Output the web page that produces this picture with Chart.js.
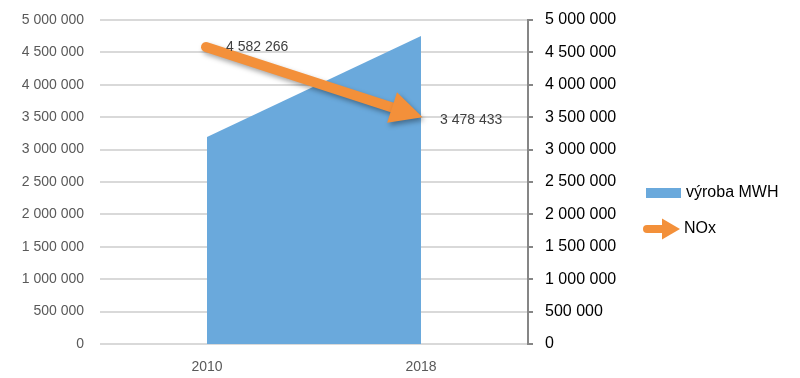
<!DOCTYPE html>
<html><head><meta charset="utf-8">
<script src="https://cdn.jsdelivr.net/npm/chart.js@4/dist/chart.umd.min.js"></script>
<style>html,body{margin:0;padding:0;background:#fff;}canvas{display:block;}</style>
</head><body>
<canvas id="c" width="800" height="378"></canvas>
<script>
const categories = ['2010', '2018'];
const vyrobaMWH = [3194000, 4753000];
const nox = [4582266, 3478433];
const seriesNames = ['výroba MWH', 'NOx'];
const axisMin = 0, axisMax = 5000000, axisStep = 500000;

const BLUE = '#6aa9dc';
const ORANGE = '#f3903a';
const FONT = "'Liberation Sans', Arial, sans-serif";
const fmt = v => String(Math.round(v)).replace(/\B(?=(\d{3})+(?!\d))/g, ' ');

function drawArrow(ctx, x0, y0, x1, y1, w, headLen, headHalf, roundStart) {
  const dx = x1 - x0, dy = y1 - y0, len = Math.hypot(dx, dy);
  const ux = dx / len, uy = dy / len;
  const bx = x1 - ux * headLen, by = y1 - uy * headLen;
  ctx.beginPath();
  ctx.lineWidth = w;
  ctx.lineCap = roundStart ? 'round' : 'butt';
  ctx.strokeStyle = ORANGE;
  ctx.moveTo(x0, y0);
  ctx.lineTo(bx + ux * 1, by + uy * 1);
  ctx.stroke();
  ctx.beginPath();
  ctx.fillStyle = ORANGE;
  ctx.moveTo(x1, y1);
  ctx.lineTo(bx - uy * headHalf, by + ux * headHalf);
  ctx.lineTo(bx + uy * headHalf, by - ux * headHalf);
  ctx.closePath();
  ctx.fill();
}

const arrowPlugin = {
  id: 'arrowPlugin',
  afterDatasetsDraw(chart) {
    const ctx = chart.ctx;
    const meta = chart.getDatasetMeta(1);
    const p0 = meta.data[0], p1 = meta.data[1];
    ctx.save();
    ctx.shadowColor = 'rgba(0,0,0,0.35)';
    ctx.shadowBlur = 5;
    ctx.shadowOffsetX = 2;
    ctx.shadowOffsetY = 3;
    drawArrow(ctx, p0.x - 1, p0.y, p1.x + 1.5, p1.y - 1.3, 10, 32, 16, true);
    ctx.restore();
    ctx.save();
    ctx.font = '14px ' + FONT;
    ctx.fillStyle = '#404040';
    ctx.textAlign = 'left';
    ctx.textBaseline = 'middle';
    ctx.fillText(fmt(nox[0]), p0.x + 19, p0.y + 0.5);
    ctx.fillText(fmt(nox[1]), p1.x + 19, p1.y + 1.5);
    ctx.restore();
    ctx.save();
    ctx.fillStyle = BLUE;
    ctx.fillRect(646, 188, 35, 10);
    ctx.font = '16px ' + FONT;
    ctx.fillStyle = '#000';
    ctx.textAlign = 'left';
    ctx.textBaseline = 'middle';
    ctx.fillText(chart.data.datasets[0].label, 686, 193);
    drawArrow(ctx, 647, 229, 680, 229, 8, 18, 10.5, true);
    ctx.fillStyle = '#000';
    ctx.fillText(chart.data.datasets[1].label, 684, 229);
    ctx.restore();
  }
};

function noPadV(s, w) { s.width = w; s.paddingTop = 0; s.paddingBottom = 0; }

new Chart(document.getElementById('c'), {
  type: 'line',
  data: {
    labels: categories,
    datasets: [
      { label: seriesNames[0], data: vyrobaMWH, yAxisID: 'y', fill: 'origin',
        backgroundColor: BLUE, borderWidth: 0, pointRadius: 0, tension: 0 },
      { label: seriesNames[1], data: nox, yAxisID: 'y', fill: false,
        showLine: false, pointRadius: 0, borderColor: ORANGE }
    ]
  },
  options: {
    responsive: false,
    animation: false,
    layout: { padding: { top: 20, left: 0, right: 0, bottom: 0 } },
    plugins: { legend: { display: false }, tooltip: { enabled: false } },
    scales: {
      x: {
        type: 'category', offset: true,
        grid: { display: false, drawTicks: false },
        border: { display: false },
        ticks: { color: '#595959', font: { family: FONT, size: 14 }, padding: 15 },
        afterFit(s) { s.height = 34; s.paddingLeft = 0; s.paddingRight = 0; }
      },
      y: {
        position: 'left', min: axisMin, max: axisMax,
        grid: { color: '#d9d9d9', lineWidth: 2, drawTicks: false },
        border: { display: false },
        ticks: { stepSize: axisStep, color: '#595959', font: { family: FONT, size: 14 }, padding: 16, callback: v => fmt(v) },
        afterFit(s) { noPadV(s, 100); }
      },
      y1: {
        position: 'right', min: axisMin, max: axisMax,
        grid: { drawOnChartArea: false, drawTicks: true, tickLength: 5, color: '#868686', lineWidth: 2 },
        border: { display: true, color: '#868686', width: 2 },
        ticks: { stepSize: axisStep, color: '#000', font: { family: FONT, size: 16 }, padding: 12, callback: v => fmt(v) },
        afterFit(s) { noPadV(s, 272); }
      }
    }
  },
  plugins: [arrowPlugin]
});
</script>
</body></html>
